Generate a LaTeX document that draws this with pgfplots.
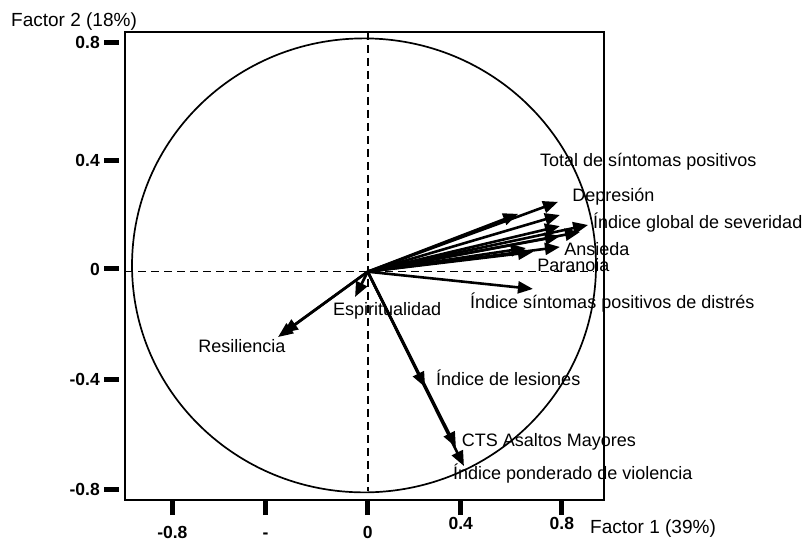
\documentclass[border=0pt]{standalone}
\usepackage{fontspec}
\setmainfont{Liberation Sans}
\usepackage{pgfplots}
\usepackage{pgfplotstable}
\pgfplotsset{compat=1.18}
\usetikzlibrary{arrows.meta}

% loadings: tip of each arrow (Factor 1, Factor 2)
\pgfplotstableread{
x y u v
0 0 0.783 0.251
0 0 0.619 0.208
0 0 0.791 0.204
0 0 0.791 0.164
0 0 0.907 0.168
0 0 0.874 0.143
0 0 0.791 0.128
0 0 0.791 0.089
0 0 0.651 0.085
0 0 0.680 0.071
0 0 0.680 -0.062
0 0 -0.052 -0.091
0 0 -0.369 -0.235
0 0 -0.349 -0.221
0 0 0.236 -0.415
0 0 0.363 -0.631
0 0 0.396 -0.699
}\loadings

\newcommand{\lbl}{\fontsize{18bp}{21bp}\selectfont}

\begin{document}
\begin{tikzpicture}
\useasboundingbox (0,0) rectangle (810bp,542bp);
\begin{axis}[
    at={(125bp,42bp)}, anchor=south west,
    scale only axis, width=479bp, height=468bp,
    xmin=-0.9988, xmax=0.9724,
    ymin=-0.8212, ymax=0.8622,
    clip=false,
    axis line style={line width=2bp},
    tick align=outside,
    major tick length=15bp,
    xtick pos=bottom, ytick pos=left,
    tick style={line width=5bp, black},
    ytick style={xshift=-6bp},
    xtick={-0.804,-0.42,0,0.383,0.799},
    xticklabels={-0.8,-,0,\raisebox{9bp}{0.4},\raisebox{9bp}{0.8}},
    ytick={-0.7817,-0.386,0.0097,0.3993,0.8227},
    yticklabels={-0.8,-0.4,0,0.4,0.8},
    ticklabel style={font=\fontsize{17.5bp}{20bp}\selectfont\bfseries, inner sep=0pt},
    xticklabel style={anchor=base, yshift=-23bp},
    yticklabel style={anchor=east, xshift=-10bp},
]
% reference lines and circle
\addplot[line width=1.6bp, dash pattern=on 8bp off 5bp] coordinates {(0,0.8622) (0,-0.79)};
\addplot[line width=1.6bp, dash pattern=on 8bp off 5bp] coordinates {(-0.9988,0) (0.93,0)};
\draw[line width=1.7bp] (axis cs:-0.0152,0.0227) ellipse [x radius=0.9547, y radius=0.8165];

% variable vectors
\addplot[black, line width=2.6bp, -{Triangle[length=15bp,width=12bp]},
    quiver={u=\thisrow{u}, v=\thisrow{v}}] table[x=x, y=y] {\loadings};

\node[anchor=base west, inner sep=0pt, font=\lbl] at (axis cs:0.709,0.377) {Total de síntomas positivos};
\node[anchor=base west, inner sep=0pt, font=\lbl] at (axis cs:0.841,0.251) {Depresión};
\node[anchor=base west, inner sep=0pt, font=\lbl] at (axis cs:0.927,0.154) {Índice global de severidad};
\node[anchor=base west, inner sep=0pt, font=\lbl] at (axis cs:0.808,0.060) {Ansieda};
\node[anchor=base west, inner sep=0pt, font=\lbl] at (axis cs:0.697,0.0025) {Paranoia};
\node[anchor=base west, inner sep=0pt, font=\lbl] at (axis cs:0.421,-0.134) {Índice síntomas positivos de distrés};
\node[anchor=base west, inner sep=0pt, font=\lbl] at (axis cs:-0.143,-0.156) {Espiritualidad};
\node[anchor=base west, inner sep=0pt, font=\lbl] at (axis cs:-0.698,-0.292) {Resiliencia};
\node[anchor=base west, inner sep=0pt, font=\lbl] at (axis cs:0.281,-0.411) {Índice de lesiones};
\node[anchor=base west, inner sep=0pt, font=\lbl] at (axis cs:0.387,-0.627) {CTS Asaltos Mayores};
\node[anchor=base west, inner sep=0pt, font=\lbl] at (axis cs:0.351,-0.746) {Índice ponderado de violencia};
\end{axis}
\node[anchor=base west, inner sep=0pt, font=\fontsize{19bp}{22bp}\selectfont] at (11bp,515bp) {Factor 2 (18\%)};
\node[anchor=base west, inner sep=0pt, font=\fontsize{19bp}{22bp}\selectfont] at (590bp,9bp) {Factor 1 (39\%)};
\end{tikzpicture}
\end{document}
